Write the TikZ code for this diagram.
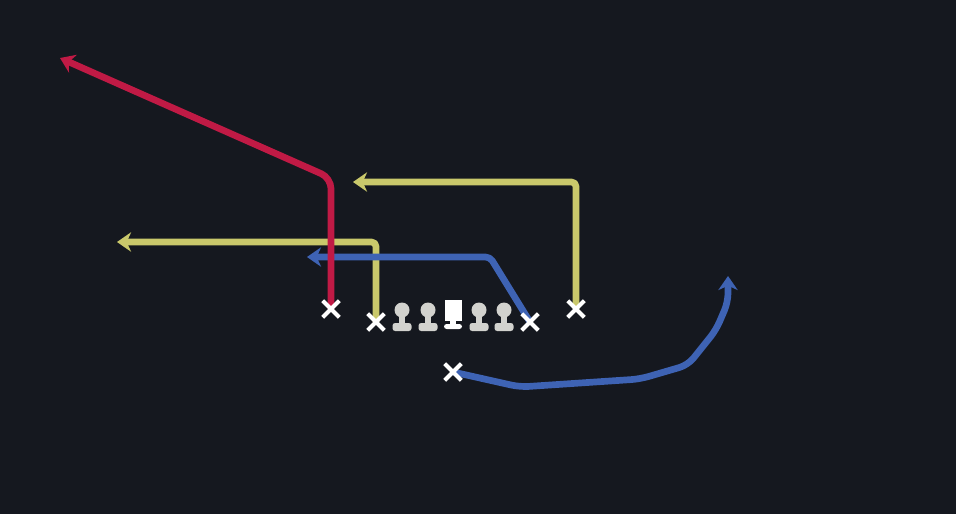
\documentclass[tikz,border=0pt]{standalone}
\usetikzlibrary{arrows.meta,shapes.misc}

\definecolor{field}{HTML}{15181F}
\definecolor{routered}{HTML}{C01A45}
\definecolor{routeyellow}{HTML}{C9C86B}
\definecolor{routeblue}{HTML}{3E63B4}
\definecolor{linegray}{HTML}{D2D2CE}

\tikzset{
  route/.style={line width=3.8pt, line join=round, rounded corners=2.5pt,
    -{Stealth[length=8pt,width=11pt,inset=2.5pt]}},
  xmark/.style={cross out, draw=white, line width=2.4pt, minimum size=7pt, inner sep=0pt},
  lineman/.pic={
    \fill[linegray] (0,-12) circle (7.5);
    \fill[linegray] (-3,-5) rectangle (3,2);
    \fill[linegray, rounded corners=1.5pt] (-9.5,1) rectangle (9.5,9);
  },
  centerman/.pic={
    \fill[white] (-8.5,-22) rectangle (8.5,-1);
    \fill[white] (-3,-2) rectangle (3,3);
    \fill[white, rounded corners=1.5pt] (-9,2) rectangle (9,7);
  }
}

\begin{document}
\begin{tikzpicture}[x=0.02cm,y=-0.02cm]
    \fill[field] (0,0) rectangle (956,514);

    % players
    \coordinate (wr) at (331,309);
    \coordinate (te) at (376,322);
    \coordinate (sl) at (576,309);
    \coordinate (rt) at (530,322);
    \coordinate (qb) at (453,372);

    % routes
    \draw [route, routeyellow] (te) -- (376,242) -- (117,242);
    \draw [route, routeyellow] (sl) -- (576,182) -- (353,182);
    \draw [route, routeblue] (rt) -- (490,257) -- (307,257);
    \draw [route, routeblue, rounded corners=5pt] (qb) -- (520,387) -- (640,379)
        -- (688,365) -- (716,330) -- (728,302) -- (728,276);
    \draw [route, routered, rounded corners=6pt] (wr) -- (331,178) -- (60,58);

    % line
    \foreach \x in {402,428,479,504}
        \pic at (\x,322) {lineman};
    \pic at (453,322) {centerman};

    % eligibles
    \node [xmark] (wrx) at (wr) {};
    \node [xmark] (tex) at (te) {};
    \node [xmark] (slx) at (sl) {};
    \node [xmark] (rtx) at (rt) {};
    \node [xmark] (qbx) at (qb) {};
\end{tikzpicture}
\end{document}
